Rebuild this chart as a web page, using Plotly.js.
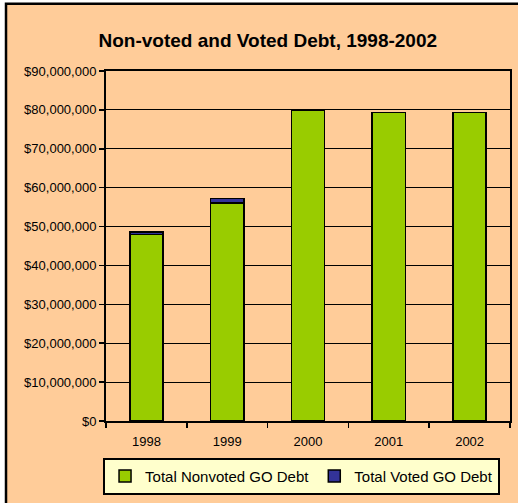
<!DOCTYPE html>
<html>
<head>
<meta charset="utf-8">
<script src="https://cdn.plot.ly/plotly-3.0.1.min.js"></script>
<style>html,body{margin:0;padding:0;background:#fff;}#chart{width:518px;height:503px;}</style>
</head>
<body>
<div id="chart"></div>
<script>
var years = ['1998', '1999', '2000', '2001', '2002'];
var nonvoted = [47900000, 56100000, 79900000, 79300000, 79300000];
var voted = [700000, 1100000, 0, 0, 0];
var yTicks = [0, 10000000, 20000000, 30000000, 40000000, 50000000, 60000000, 70000000, 80000000, 90000000];

var traces = [
  {type: 'bar', name: 'Total Nonvoted GO Debt', x: years, y: nonvoted,
   marker: {color: '#99CC00', line: {color: '#000', width: 1.5}}},
  {type: 'bar', name: 'Total Voted GO Debt', x: years, y: voted,
   marker: {color: '#333399', line: {color: '#000', width: 1.5}}}
];

var layout = {
  width: 518, height: 503,
  margin: {l: 106, r: 8, t: 71, b: 79},
  paper_bgcolor: '#FFFFFF',
  plot_bgcolor: '#FFFFCC',
  barmode: 'stack',
  bargap: 0.59,
  font: {family: 'Liberation Sans, Arial, sans-serif', color: '#000'},
  title: {text: 'Non-voted and Voted Debt, 1998-2002',
    font: {family: 'Liberation Sans Narrow, Arial Narrow, Liberation Sans, sans-serif', size: 19, color: '#000', weight: 'bold'},
    xref: 'container', x: 0.517, xanchor: 'center', yref: 'container', y: 0.92, yanchor: 'middle'},
  xaxis: {type: 'category', tickson: 'boundaries', ticks: 'outside', ticklen: 5, tickwidth: 1.5, tickcolor: '#000',
    showline: true, mirror: true, linecolor: '#000', linewidth: 2, showgrid: false,
    ticklabelstandoff: 7,
    tickfont: {size: 13, color: '#000'}},
  yaxis: {range: [0, 90000000], tickvals: yTicks, tickformat: '$,.0f',
    ticks: 'outside', ticklen: 5, tickwidth: 1.5, tickcolor: '#000',
    showline: true, mirror: true, linecolor: '#000', linewidth: 2,
    showgrid: true, gridcolor: '#000', gridwidth: 1.2, zeroline: false,
    tickfont: {size: 13, color: '#000'}},
  showlegend: true,
  legend: {orientation: 'h', x: 0.484, xanchor: 'center', y: -0.105, yanchor: 'top',
    bgcolor: '#FFFFCC', bordercolor: '#000', borderwidth: 2,
    font: {size: 15, color: '#000'}, traceorder: 'normal', itemwidth: 30},
  shapes: [
    {type: 'rect', xref: 'paper', yref: 'paper', x0: -0.2475, x1: 1.06, y0: -0.3, y1: 1.192,
     fillcolor: '#FFCC99', line: {color: '#000', width: 2.5}, layer: 'below'}
  ]
};

Plotly.newPlot('chart', traces, layout, {displayModeBar: false, staticPlot: true});
</script>
</body>
</html>
